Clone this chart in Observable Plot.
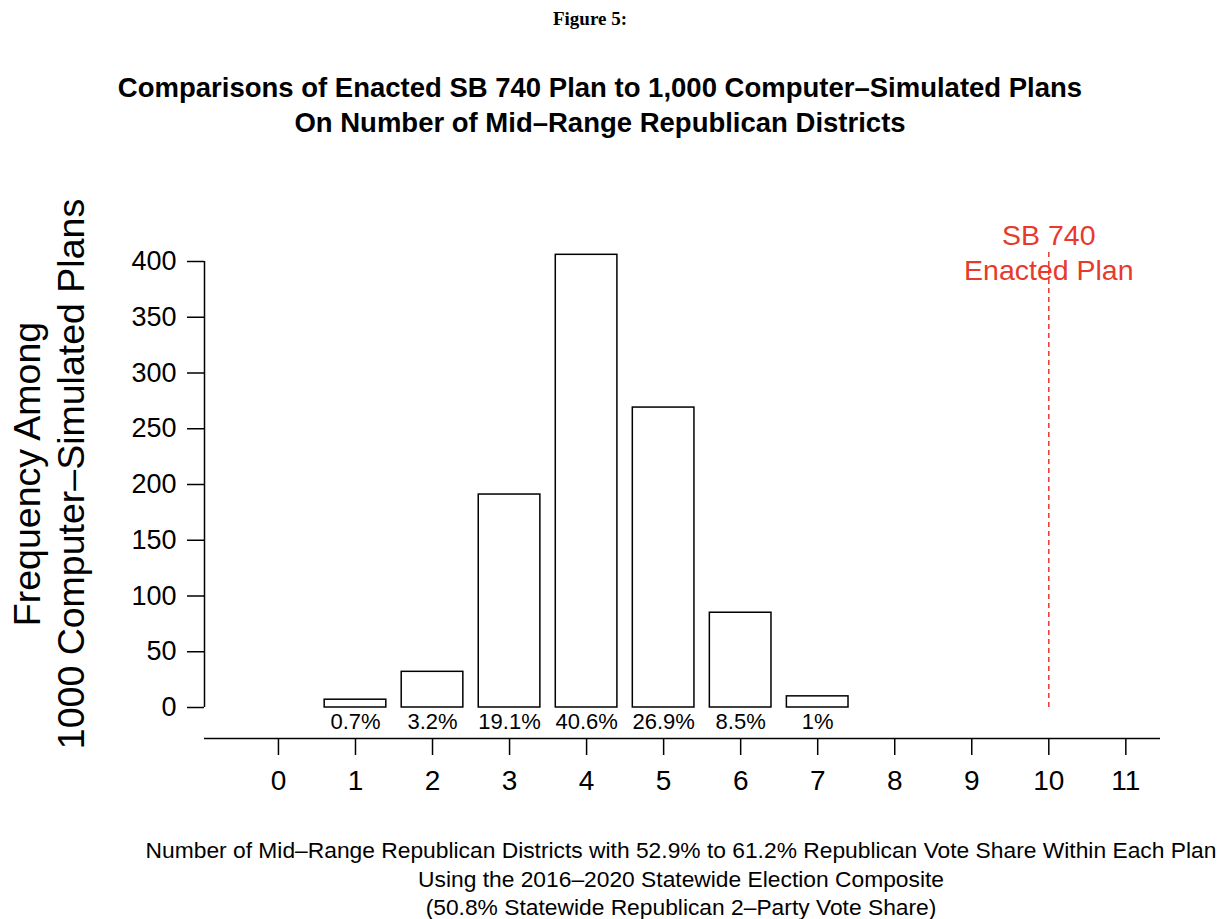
<!DOCTYPE html>
<html><head><meta charset="utf-8">
<script src="https://cdn.jsdelivr.net/npm/d3@7"></script>
<script src="https://cdn.jsdelivr.net/npm/@observablehq/plot@0.6"></script>
<style>
body{margin:0;background:#fff;}
#wrap{position:relative;width:1230px;height:919px;font-family:"Liberation Sans",Arial,sans-serif;color:#000;overflow:hidden;}
.abs{position:absolute;}
#chart{position:absolute;left:0;top:0;}
</style></head><body>
<div id="wrap">
  <div id="chart"></div>
  <div class="abs" style="left:0;width:1180px;top:8px;text-align:center;font-family:'Liberation Serif',serif;font-weight:bold;font-size:19px;">Figure 5:</div>
  <div class="abs" style="left:0;width:1200px;top:70px;text-align:center;font-weight:bold;font-size:27.5px;line-height:35px;">Comparisons of Enacted SB 740 Plan to 1,000 Computer–Simulated Plans<br>On Number of Mid–Range Republican Districts</div>
  <div class="abs" style="left:-301px;width:700px;top:430px;height:88px;text-align:center;font-size:37.5px;line-height:44px;transform:rotate(-90deg);transform-origin:50% 50%;white-space:nowrap;">Frequency Among<br>1000 Computer–Simulated Plans</div>
  <div class="abs" style="left:81px;width:1200px;top:836px;text-align:center;font-size:22.8px;line-height:28.5px;white-space:nowrap;">Number of Mid–Range Republican Districts with 52.9% to 61.2% Republican Vote Share Within Each Plan<br>Using the 2016–2020 Statewide Election Composite<br>(50.8% Statewide Republican 2–Party Vote Share)</div>
</div>
<script>
// Data
const districts = [1, 2, 3, 4, 5, 6, 7];
const counts = [7, 32, 191, 406, 269, 85, 10];
const pctLabels = ["0.7%", "3.2%", "19.1%", "40.6%", "26.9%", "8.5%", "1%"];
const xTicks = [0, 1, 2, 3, 4, 5, 6, 7, 8, 9, 10, 11];
const yTicks = [0, 50, 100, 150, 200, 250, 300, 350, 400];
const enactedValue = 10;
const enactedLabel = "SB 740\nEnacted Plan";

const rows = districts.map((d, i) => ({district: d, count: counts[i], pct: pctLabels[i]}));
const xDomain = [-0.96, 11.45];
const yDomain = [-27.8, 400];
const red = "#e8392d";
const halfBar = 0.4;

const chart = Plot.plot({
  width: 1230,
  height: 919,
  marginLeft: 204,
  marginRight: 70,
  marginTop: 261,
  marginBottom: 181,
  style: {fontFamily: "Liberation Sans, Arial, sans-serif", background: "transparent", color: "black"},
  x: {domain: xDomain},
  y: {domain: yDomain},
  marks: [
    Plot.ruleX([enactedValue], {y1: 0, y2: 410, stroke: red, strokeWidth: 1.5, strokeDasharray: "5,4"}),
    Plot.rectY(rows, {x1: d => d.district - halfBar, x2: d => d.district + halfBar, y1: 0, y2: "count", fill: "white", stroke: "black", strokeWidth: 1.5}),
    Plot.text(rows, {x: "district", y: 0, text: "pct", dy: 14, fontSize: 22, lineAnchor: "middle"}),
    Plot.text([enactedValue], {x: d => d, y: 409, text: () => enactedLabel, fill: red, fontSize: 28.5, lineHeight: 1.23, lineAnchor: "middle"}),
    Plot.ruleX([xDomain[0]], {y1: yTicks[0], y2: yTicks[yTicks.length - 1], strokeWidth: 1.5}),
    Plot.ruleY([yDomain[0]], {x1: xDomain[0], x2: xDomain[1], strokeWidth: 1.5}),
    Plot.axisY({ticks: yTicks, tickSize: 17, tickPadding: 11, fontSize: 27, label: null, strokeWidth: 1.5}),
    Plot.axisX({ticks: xTicks, tickSize: 17, tickPadding: 15, fontSize: 28, label: null, strokeWidth: 1.5, tickFormat: d => String(d)})
  ]
});
document.getElementById("chart").appendChild(chart);
</script>
</body></html>
